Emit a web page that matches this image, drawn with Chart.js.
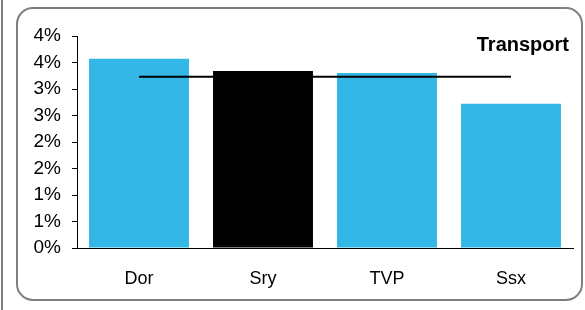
<!DOCTYPE html>
<html>
<head>
<meta charset="utf-8">
<script src="https://cdn.jsdelivr.net/npm/chart.js@4.4.0/dist/chart.umd.min.js"></script>
<style>
  body { margin:0; background:#fff; }
  #wrap { position:relative; width:585px; height:310px; overflow:hidden; }
  #edge { position:absolute; left:1px; top:0; width:2px; height:310px; background:#7f7f7f; }
  #card { position:absolute; left:16px; top:7px; width:563px; height:290px; border:2px solid #7f7f7f; border-radius:17px; }
  #title { position:absolute; right:16px; top:33px; line-height:20px; font:bold 20px "Liberation Sans", Arial, sans-serif; color:#000; }
  canvas { position:absolute; left:0; top:0; }
</style>
</head>
<body>
<div id="wrap">
  <div id="edge"></div>
  <div id="card"></div>
  <canvas id="myChart" width="585" height="310"></canvas>
  <div id="title">Transport</div>
</div>
<script>
// region names and values (percent)
var regions = ['Dor', 'Sry', 'TVP', 'Ssx']
var regionValues = [3.57, 3.34, 3.30, 2.72]
var averageValue = [3.23, 3.23, 3.23, 3.23]
var barColors = ['#32b7e7', '#000000', '#32b7e7', '#32b7e7']

var fontFamily = '"Liberation Sans", Arial, sans-serif'

const ctx = document.getElementById('myChart').getContext('2d')
var myChart = new Chart(ctx, {
    type: 'bar',
    data: {
        labels: regions,
        datasets: [{
            type: 'line',
            data: averageValue,
            borderColor: '#000',
            borderWidth: 2,
            pointRadius: 0,
            fill: false,
            order: 0
        }, {
            data: regionValues,
            backgroundColor: barColors,
            borderWidth: 0,
            categoryPercentage: 1,
            barPercentage: 0.806,
            order: 1
        }]
    },
    options: {
        responsive: false,
        animation: false,
        layout: { padding: { left: 0, right: 12, top: 36, bottom: 0 } },
        plugins: { legend: { display: false }, tooltip: { enabled: false } },
        scales: {
            x: {
                grid: { display: false },
                border: { display: true, color: '#000', width: 1 },
                ticks: { color: '#000', font: { family: fontFamily, size: 18 }, padding: 12 },
                afterFit: function (scale) { scale.height = 62 }
            },
            y: {
                min: 0,
                max: 4,
                grid: { drawOnChartArea: false, tickLength: 5, color: '#000' },
                border: { display: true, color: '#000', width: 1 },
                ticks: {
                    stepSize: 0.5,
                    autoSkip: false,
                    color: '#000',
                    padding: 11,
                    font: { family: fontFamily, size: 19 },
                    callback: function (v) { return Math.round(v) + '%' }
                },
                afterFit: function (scale) { scale.width = 77 }
            }
        }
    }
})
</script>
</body>
</html>
